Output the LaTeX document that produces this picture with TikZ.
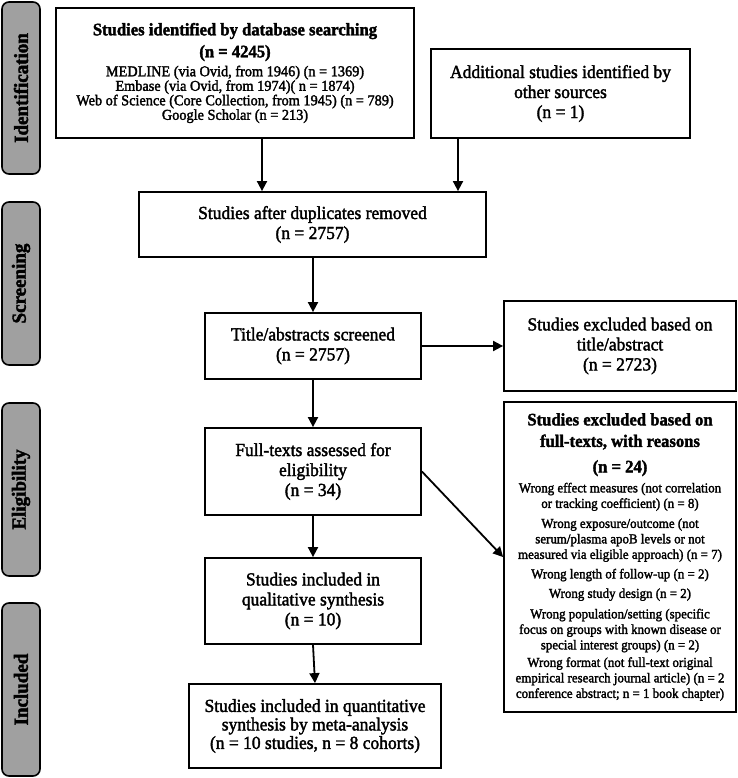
\documentclass[tikz,border=0pt]{standalone}
\usepackage{fontspec}
\setmainfont{Liberation Serif}[FakeStretch=0.95,FakeBold=2]
\usetikzlibrary{arrows.meta}
\definecolor{phasegray}{RGB}{160,160,160}
\newcommand{\smf}{\fontsize{15.05}{15}\selectfont}
\newcommand{\itf}{\fontsize{13.6}{15}\selectfont}
\newcommand{\ttlf}{\fontsize{17.5}{20}\selectfont\bfseries}
\begin{document}
\begin{tikzpicture}[x=1pt,y=-1pt,
  box/.style={draw, line width=1.8pt, align=center, inner sep=0pt, font=\fontsize{18.4}{20}\selectfont},
  phase/.style={draw, line width=1.6pt, rounded corners=7pt, fill=phasegray, minimum height=38pt, inner sep=0pt, rotate=90, font=\fontsize{20}{20}\selectfont\bfseries},
  arr/.style={line width=1.8pt, -{Triangle[length=10pt,width=10pt]}}]
\useasboundingbox (0,0) rectangle (737,778);
% phase labels
\node[phase, minimum width=172pt] (p1) at (21,88) {Identification};
\node[phase, minimum width=163pt] (p2) at (21,283.5) {Screening};
\node[phase, minimum width=173pt] (p3) at (21,489.5) {Eligibility};
\node[phase, minimum width=173pt] (p4) at (21,689.5) {Included};
% boxes
\node[box, minimum width=358pt, minimum height=130pt] (b1) at (235,73) {%
{\ttlf Studies identified by database searching}\\[2pt]
{\ttlf (n = 4245)}\\[-1pt]
{\smf MEDLINE (via Ovid, from 1946) (n = 1369)}\\[-5.5pt]
{\smf Embase (via Ovid, from 1974)( n = 1874)}\\[-5.5pt]
{\smf Web of Science (Core Collection, from 1945) (n = 789)}\\[-5.5pt]
{\smf Google Scholar (n = 213)}};
\node[box, minimum width=259pt, minimum height=89pt] (b2) at (560.5,93.5) {Additional studies identified by\\other sources\\(n = 1)};
\node[box, minimum width=347pt, minimum height=65pt] (b3) at (312.5,224.5) {Studies after duplicates removed\\(n = 2757)};
\node[box, minimum width=216pt, minimum height=66pt] (b4) at (313,346) {Title/abstracts screened\\(n = 2757)};
\node[box, minimum width=232pt, minimum height=90pt] (b5) at (620,346) {Studies excluded based on\\title/abstract\\(n = 2723)};
\node[box, minimum width=216pt, minimum height=87pt] (b6) at (313,471.5) {Full-texts assessed for\\eligibility\\(n = 34)};
\node[box, minimum width=232pt, minimum height=310pt] (b7) at (620,557) {%
{\ttlf Studies excluded based on}\\[1.5pt]
{\ttlf full-texts, with reasons}\\[5.5pt]
{\ttlf (n = 24)}\\[0pt]
{\itf Wrong effect measures (not correlation}\\[-4.5pt]
{\itf or tracking coefficient) (n = 8)}\\[0pt]
{\itf Wrong exposure/outcome (not}\\[-4.5pt]
{\itf serum/plasma apoB levels or not}\\[-4.5pt]
{\itf measured via eligible approach) (n = 7)}\\[-0.5pt]
{\itf Wrong length of follow-up (n = 2)}\\[-0.5pt]
{\itf Wrong study design (n = 2)}\\[0.5pt]
{\itf Wrong population/setting (specific}\\[-4.5pt]
{\itf focus on groups with known disease or}\\[-4.5pt]
{\itf special interest groups) (n = 2)}\\[-2.5pt]
{\itf Wrong format (not full-text original}\\[-4.5pt]
{\itf empirical research journal article) (n = 2}\\[-4.5pt]
{\itf conference abstract; n = 1 book chapter)}};
\node[box, minimum width=216pt, minimum height=86pt] (b8) at (313,601) {Studies included in\\qualitative synthesis\\(n = 10)};
\node[box, minimum width=252pt, minimum height=84pt] (b9) at (315,726) {Studies included in quantitative\\[-1.5pt]synthesis by meta-analysis\\[-1.5pt](n = 10 studies, n = 8 cohorts)};
% connectors
\coordinate (xa) at (262,0);
\coordinate (xb) at (458,0);
\draw[arr] (b1.south -| xa) -- (b3.north -| xa);
\draw[arr] (b2.south -| xb) -- (b3.north -| xb);
\draw[arr] (b3.south -| b4.north) -- (b4.north);
\draw[arr] (b4.east) -- (b5.west);
\draw[arr] (b4.south) -- (b6.north);
\draw[arr] (b6.east) -- (b7.west);
\draw[arr] (b6.south) -- (b8.north);
\draw[arr] (b8.south) -- (b9.north);
\end{tikzpicture}
\end{document}
